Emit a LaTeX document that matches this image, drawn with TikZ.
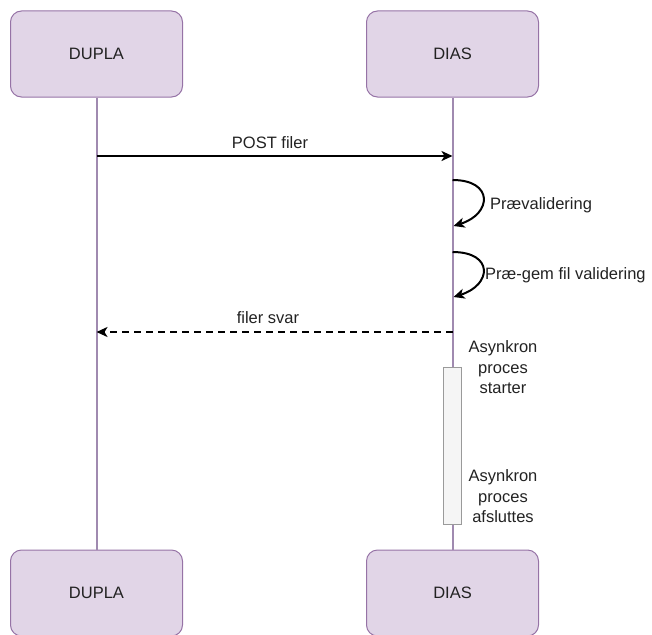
\documentclass[tikz,border=0pt]{standalone}
\usepackage{fontspec}
\setmainfont{Liberation Sans}
\usetikzlibrary{arrows.meta}
\definecolor{actfill}{HTML}{E1D5E7}
\definecolor{actdraw}{HTML}{9673A6}
\definecolor{lifecol}{HTML}{A08AB0}
\definecolor{txtcol}{HTML}{222222}
\definecolor{barfill}{HTML}{F5F5F5}
\definecolor{bardraw}{HTML}{9A9A9A}
\begin{document}
\begin{tikzpicture}[x=1pt,y=-1pt,
  every node/.style={text=txtcol,font=\fontsize{16.5}{20.5}\selectfont},
  actor/.style={draw=actdraw,line width=1pt,fill=actfill,rounded corners=11pt,minimum width=172pt,minimum height=86pt,inner sep=0pt},
  lifeline/.style={draw=lifecol,line width=2pt},
  msg/.style={draw=black,line width=2pt,-{Stealth[length=11pt,width=10pt,inset=3pt]}},
  dashmsg/.style={msg,dash pattern=on 7pt off 5pt},
  actbar/.style={draw=bardraw,line width=0.8pt,fill=barfill,minimum width=18pt,minimum height=157pt,inner sep=0pt},
  lbl/.style={inner sep=1pt},
  note/.style={align=center,inner sep=0pt}
]
\useasboundingbox (0,0) rectangle (652,634);
% actors
\node[actor] (dupT) at (96.5,54) {DUPLA};
\node[actor] (diaT) at (452.5,54) {DIAS};
\node[actor] (dupB) at (96.5,593) {DUPLA};
\node[actor] (diaB) at (452.5,593) {DIAS};
% lifelines
\draw[lifeline] (dupT.south) -- (dupB.north);
\draw[lifeline] (diaT.south) -- (diaB.north);
% activation bar
\node[actbar] (bar) at (452.5,445.5) {};
% points on lifelines
\coordinate (p1s) at (96.5,156);
\coordinate (p1e) at (452.5,156);
\coordinate (l1a) at (452.5,180);
\coordinate (l1b) at (453.5,226);
\coordinate (l2a) at (452.5,252);
\coordinate (l2b) at (453.5,297);
\coordinate (r1s) at (452.5,332);
\coordinate (r1e) at (96.5,332);
% messages
\draw[msg] (p1s) -- (p1e);
\node[lbl] (postlbl) at (270,142.5) {POST filer};
\draw[msg] (l1a) .. controls (494,180) and (492,214) .. (l1b);
\node[lbl,anchor=west] (prevlbl) at (489,205) {Prævalidering};
\draw[msg] (l2a) .. controls (494,252) and (492,285) .. (l2b);
\node[lbl,anchor=west] (gemlbl) at (484,275) {Præ-gem fil validering};
\draw[dashmsg] (r1s) -- (r1e);
\node[lbl,fill=white] (svarlbl) at (268,318) {filer svar};
% notes
\node[note] (n1) at (503,367.5) {Asynkron\\proces\\starter};
\node[note] (n2) at (503,496.5) {Asynkron\\proces\\afsluttes};
\end{tikzpicture}
\end{document}
